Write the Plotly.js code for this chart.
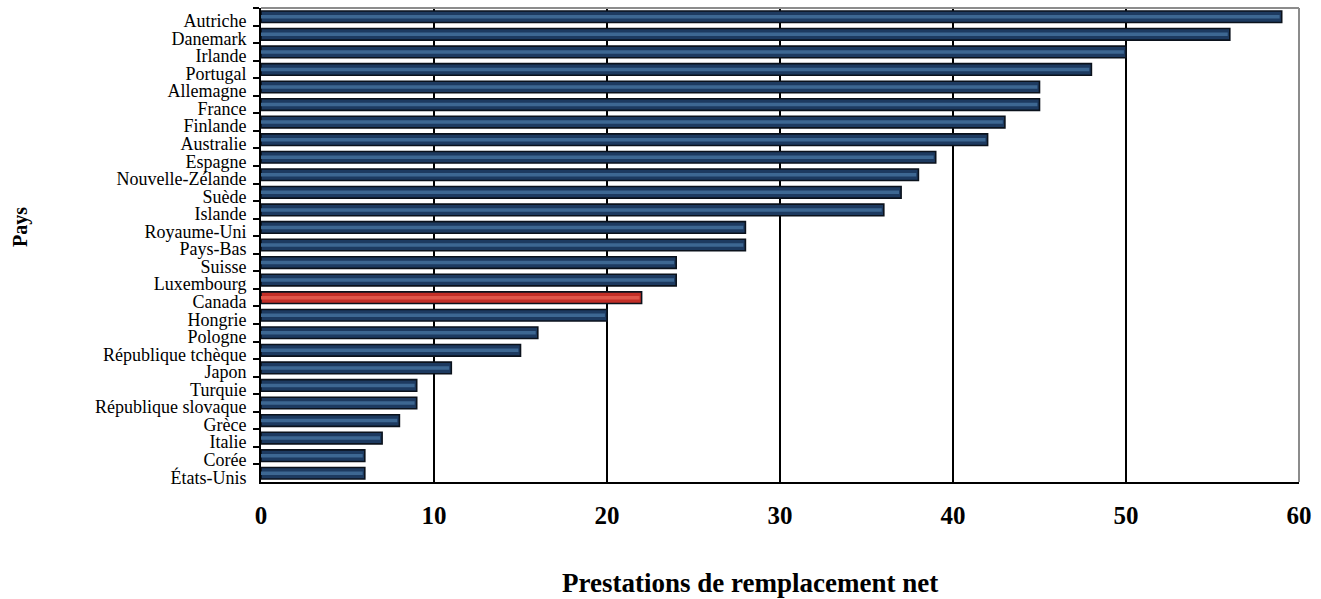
<!DOCTYPE html>
<html>
<head>
<meta charset="utf-8">
<script src="https://cdn.plot.ly/plotly-3.0.1.min.js"></script>
<style>
  html, body { margin: 0; padding: 0; background: #fff; }
  #chart { width: 1321px; height: 599px; }
</style>
</head>
<body>
<div id="chart"></div>
<script>
// Pays, du plus élevé au plus bas
const pays = [
  "Autriche", "Danemark", "Irlande", "Portugal", "Allemagne", "France",
  "Finlande", "Australie", "Espagne", "Nouvelle-Zélande", "Suède", "Islande",
  "Royaume-Uni", "Pays-Bas", "Suisse", "Luxembourg", "Canada", "Hongrie",
  "Pologne", "République tchèque", "Japon", "Turquie", "République slovaque",
  "Grèce", "Italie", "Corée", "États-Unis"
];

// Prestations de remplacement net (%)
const prestations = [
  59, 56, 50, 48, 45, 45,
  43, 42, 39, 38, 37, 36,
  28, 28, 24, 24, 22, 20,
  16, 15, 11, 9, 9,
  8, 7, 6, 6
];

const paysMisEnValeur = "Canada";
const couleurBase = pays.map(p => p === paysMisEnValeur ? "#c32f28" : "#1d3a60");
const couleurReflet = pays.map(p => p === paysMisEnValeur ? "#e0564a" : "#3d6792");

const serif = "Liberation Serif, Times New Roman, serif";

const traces = [
  {
    type: "bar",
    orientation: "h",
    y: pays,
    x: prestations,
    width: 0.66,
    marker: { color: couleurBase, line: { color: "#0b121c", width: 1.6 } },
    hoverinfo: "x+y",
    showlegend: false
  },
  {
    // reflet clair au centre de chaque barre
    type: "bar",
    orientation: "h",
    y: pays,
    x: prestations.map(v => v - 0.12),
    width: 0.2,
    marker: { color: couleurReflet, line: { width: 0 } },
    hoverinfo: "skip",
    showlegend: false
  }
];

const layout = {
  width: 1321,
  height: 599,
  margin: { l: 261, r: 22, t: 8, b: 117 },
  paper_bgcolor: "#ffffff",
  plot_bgcolor: "#ffffff",
  barmode: "overlay",
  font: { family: serif, color: "#000" },
  xaxis: {
    range: [0, 60],
    dtick: 10,
    tick0: 0,
    showgrid: true,
    gridcolor: "#000",
    gridwidth: 2,
    zeroline: false,
    showline: true,
    linecolor: "#000",
    linewidth: 2,
    ticks: "",
    ticklabelstandoff: 10,
    tickfont: { family: serif, size: 25, color: "#000", weight: "bold" },
    fixedrange: true
  },
  yaxis: {
    type: "category",
    autorange: "reversed",
    tickmode: "linear",
    tick0: 0,
    dtick: 1,
    showgrid: false,
    zeroline: false,
    showline: true,
    linecolor: "#000",
    linewidth: 2,
    ticks: "outside",
    tickson: "boundaries",
    ticklen: 6,
    tickwidth: 2,
    tickcolor: "#000",
    ticklabelstandoff: 9,
    ticklabelshift: -4,
    tickfont: { family: serif, size: 18, color: "#000" },
    fixedrange: true
  },
  annotations: [
    {
      text: "Prestations de remplacement net",
      xref: "paper", yref: "paper",
      x: 0.471, y: -0.213,
      xanchor: "center", yanchor: "middle",
      showarrow: false,
      font: { family: serif, size: 27, color: "#000", weight: "bold" }
    },
    {
      text: "Pays",
      xref: "paper", yref: "paper",
      x: -0.2312, y: 0.538,
      xanchor: "center", yanchor: "middle",
      textangle: -90,
      showarrow: false,
      font: { family: serif, size: 20, color: "#000", weight: "bold" }
    }
  ],
  shapes: [
    { type: "line", xref: "paper", yref: "paper", x0: 0, x1: 1, y0: 1, y1: 1,
      line: { color: "#8c8c8c", width: 2 }, layer: "above" },
    { type: "line", xref: "paper", yref: "paper", x0: 1, x1: 1, y0: 0, y1: 1,
      line: { color: "#8c8c8c", width: 2 }, layer: "above" }
  ]
};

Plotly.newPlot("chart", traces, layout, { displayModeBar: false, staticPlot: true });
</script>
</body>
</html>
